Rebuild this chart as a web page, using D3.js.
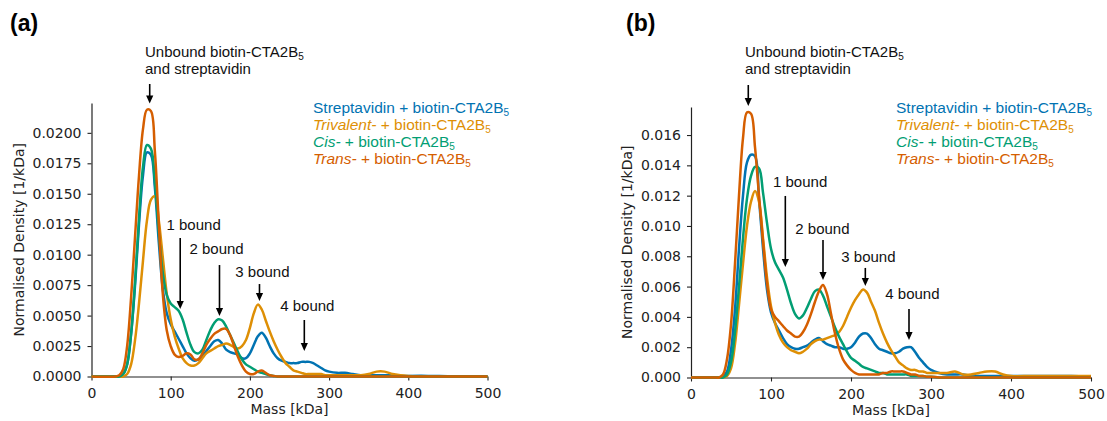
<!DOCTYPE html>
<html>
<head>
<meta charset="utf-8">
<script src="https://cdn.jsdelivr.net/npm/d3@7"></script>
<style>
  html, body { margin: 0; padding: 0; background: #fff; }
  svg { display: block; }
  text { white-space: pre; }
  .tick text { font-family: 'DejaVu Sans', sans-serif; font-size: 14px; fill: #222; }
</style>
</head>
<body>
<svg id="chart" width="1107" height="421"></svg>
<script>
// ── Data ───────────────────────────────────────────────────────────────────────
// Mass grid [kDa] shared by every curve
var MASS = [0, 30, 35,
  40, 45, 50, 55, 60, 65,
  70, 75, 80, 85, 90, 95,
  100, 105, 110, 115, 120, 125,
  130, 135, 140, 145, 150, 155,
  160, 165, 170, 175, 180, 185,
  190, 195, 200, 205, 210, 215,
  220, 225, 230, 235, 240, 245,
  250, 255, 260, 265, 270, 275,
  280, 285, 290, 295, 300,
  310, 320, 330, 340, 350, 360, 370, 380, 390, 400,
  425, 450, 475, 500];

// Normalised density [1/kDa], panel (a)
var STREP_A = [0, 0, 0,
  0.0002, 0.0010, 0.0035, 0.0075, 0.0125, 0.0165,
  0.0184, 0.0182, 0.0155, 0.0110, 0.0072, 0.0052,
  0.0043, 0.0037, 0.0031, 0.0025, 0.0019, 0.0015,
  0.0013, 0.0014, 0.0017, 0.0021, 0.0025, 0.0029,
  0.0030, 0.0027, 0.0022, 0.0020, 0.0019, 0.0018,
  0.0015, 0.0015, 0.0019, 0.0026, 0.0033, 0.0036,
  0.0032, 0.0025, 0.0019, 0.0015, 0.0013, 0.0012,
  0.0011, 0.0011, 0.0011, 0.0012, 0.0012, 0.0012,
  0.0011, 0.0009, 0.0007, 0.0005, 0.0004,
  0.0003, 0.0003, 0.0002, 0.0001, 0.0001, 0.0001, 0.0001, 0.0001, 0.00005, 0.00005,
  0.00005, 0.00003, 0.00002, 0.00002];

var TRI_A = [0, 0, 0,
  0, 0.0002, 0.0010, 0.0030, 0.0060, 0.0095,
  0.0128, 0.0145, 0.0148, 0.0128, 0.0098, 0.0068,
  0.0047, 0.0033, 0.0023, 0.0015, 0.0011, 0.0009,
  0.0009, 0.0011, 0.0015, 0.0019, 0.0021, 0.0023,
  0.0025, 0.0026, 0.0027, 0.0026, 0.0024, 0.0023,
  0.0025, 0.0030, 0.0040, 0.0052, 0.0059, 0.0055,
  0.0046, 0.0037, 0.0029, 0.0022, 0.0016, 0.0011,
  0.0008, 0.0005, 0.0004, 0.0003, 0.0002, 0.0002,
  0.0002, 0.0002, 0.0002, 0.0001, 0.0001,
  0.0001, 0.0001, 0.0001, 0.0001, 0.0002, 0.0004, 0.0004, 0.0002, 0.0001, 0.00005,
  0, 0, 0, 0];

var CIS_A = [0, 0, 0,
  0.0002, 0.0010, 0.0035, 0.0078, 0.0130, 0.0172,
  0.0190, 0.0187, 0.0160, 0.0118, 0.0085, 0.0067,
  0.0060, 0.0057, 0.0054, 0.0047, 0.0036, 0.0026,
  0.0020, 0.0019, 0.0022, 0.0030, 0.0038, 0.0044,
  0.0047, 0.0046, 0.0041, 0.0034, 0.0027, 0.0020,
  0.0014, 0.0010, 0.0008, 0.0006, 0.0004, 0.0003,
  0.0002, 0.0001, 0.00005, 0, 0, 0,
  0, 0, 0, 0, 0, 0,
  0, 0, 0, 0, 0,
  0, 0, 0, 0, 0, 0, 0, 0, 0, 0,
  0, 0, 0, 0];

var TRANS_A = [0, 0, 0.0001,
  0.0006, 0.0025, 0.0065, 0.0115, 0.0165, 0.0203,
  0.0219, 0.0218, 0.0185, 0.0125, 0.0068, 0.0038,
  0.0025, 0.0018, 0.0016, 0.0017, 0.0019, 0.0018,
  0.0014, 0.0014, 0.0019, 0.0026, 0.0031, 0.0035,
  0.0037, 0.0039, 0.0039, 0.0034, 0.0025, 0.0016,
  0.0009, 0.0004, 0.0002, 0.0002, 0.0004, 0.0005,
  0.0003, 0.0001, 0.00005, 0, 0, 0,
  0, 0, 0, 0, 0, 0,
  0, 0, 0, 0, 0,
  0, 0, 0, 0, 0, 0, 0, 0, 0, 0,
  0, 0, 0, 0];

// Normalised density [1/kDa], panel (b)
var STREP_B = [0, 0, 0,
  0.0001, 0.0004, 0.0018, 0.0045, 0.0085, 0.0120,
  0.0142, 0.0147, 0.0146, 0.0118, 0.0085, 0.0058,
  0.0043, 0.0036, 0.0031, 0.0026, 0.0022, 0.0020,
  0.0019, 0.0019, 0.0020, 0.0021, 0.0023, 0.0025,
  0.0026, 0.0024, 0.0022, 0.0021, 0.0020, 0.0020,
  0.0019, 0.0019, 0.0020, 0.0023, 0.0027, 0.0029,
  0.0029, 0.0026, 0.0022, 0.0019, 0.0018, 0.0017,
  0.0016, 0.0016, 0.0017, 0.0019, 0.0020, 0.0020,
  0.0017, 0.0013, 0.0010, 0.0007, 0.0005,
  0.0003, 0.0002, 0.0002, 0.0002, 0.0001, 0.0001, 0.0001, 0.0001, 0.0001, 0.0001,
  0.0001, 0.0001, 0.0001, 0.00005];

var TRI_B = [0, 0, 0,
  0, 0.0001, 0.0006, 0.0022, 0.0048, 0.0075,
  0.0100, 0.0116, 0.0123, 0.0116, 0.0092, 0.0066,
  0.0047, 0.0036, 0.0028, 0.0023, 0.0020, 0.0018,
  0.0017, 0.0016, 0.0017, 0.0019, 0.0022, 0.0024,
  0.0025, 0.0025, 0.0026, 0.0027, 0.0028, 0.0030,
  0.0034, 0.0040, 0.0046, 0.0051, 0.0055, 0.0058,
  0.0056, 0.0050, 0.0044, 0.0036, 0.0029, 0.0023,
  0.0018, 0.0014, 0.0010, 0.0008, 0.0006, 0.0005,
  0.0005, 0.0004, 0.0004, 0.0003, 0.0003,
  0.0003, 0.0003, 0.0004, 0.0002, 0.0002, 0.0003, 0.0004, 0.0004, 0.0002, 0.0001,
  0.0001, 0.0001, 0.0001, 0.0001];

var CIS_B = [0, 0, 0,
  0, 0.0002, 0.0010, 0.0030, 0.0060, 0.0092,
  0.0118, 0.0133, 0.0139, 0.0138, 0.0122, 0.0102,
  0.0085, 0.0076, 0.0071, 0.0066, 0.0058, 0.0049,
  0.0042, 0.0039, 0.0041, 0.0046, 0.0052, 0.0057,
  0.0058, 0.0054, 0.0047, 0.0040, 0.0033, 0.0027,
  0.0022, 0.0017, 0.0013, 0.0011, 0.0009, 0.0007,
  0.0006, 0.0005, 0.0004, 0.0003, 0.0003, 0.0002,
  0.0002, 0.0002, 0.0002, 0.0002, 0.0002, 0.0001,
  0.0001, 0.0001, 0.0001, 0.00005, 0.00005,
  0, 0, 0, 0, 0, 0, 0, 0, 0, 0,
  0, 0, 0, 0];

var TRANS_B = [0, 0, 0,
  0.0002, 0.0012, 0.0035, 0.0075, 0.0120, 0.0158,
  0.0175, 0.0174, 0.0152, 0.0120, 0.0090, 0.0062,
  0.0045, 0.0040, 0.0037, 0.0034, 0.0031, 0.0029,
  0.0027, 0.0027, 0.0030, 0.0035, 0.0042, 0.0050,
  0.0057, 0.0061, 0.0055, 0.0042, 0.0029, 0.0019,
  0.0012, 0.0008, 0.0005, 0.0003, 0.0002, 0.0002,
  0.0002, 0.0002, 0.0002, 0.0002, 0.0003, 0.0003,
  0.0004, 0.0004, 0.0004, 0.0004, 0.0003, 0.0002,
  0.0002, 0.0001, 0.0001, 0.00005, 0.00005,
  0, 0, 0, 0, 0, 0, 0, 0, 0, 0,
  0, 0, 0, 0];

// Legend / series order (also the drawing order)
var LEGEND_ITALIC = ['', 'Trivalent-', 'Cis-', 'Trans-'];
var LEGEND_PLAIN  = ['Streptavidin + biotin-CTA2B', ' + biotin-CTA2B', ' + biotin-CTA2B', ' + biotin-CTA2B'];
var COLORS = ['#0173b2', '#de8f05', '#029e73', '#d55e00'];

var X_TICKS   = [0, 100, 200, 300, 400, 500];
var Y_TICKS_A = [0, 0.0025, 0.005, 0.0075, 0.01, 0.0125, 0.015, 0.0175, 0.02];
var Y_TICKS_B = [0, 0.002, 0.004, 0.006, 0.008, 0.01, 0.012, 0.014, 0.016];

// Annotations in data units: text anchor (mass, density), arrow mass, arrow from / to density
var BOUND_LABELS = ['1 bound', '2 bound', '3 bound', '4 bound'];
var BOUND_A = [
  [94.7, 0.01199, 112.0, 0.01137, 0.00554],
  [123.7, 0.01006, 161.6, 0.00915, 0.00497],
  [181.6, 0.00813, 212.1, 0.00759, 0.00620],
  [238.3, 0.00534, 268.7, 0.00464, 0.00209]
];
var BOUND_B = [
  [102.5, 0.01254, 117.9, 0.01198, 0.00729],
  [130.4, 0.00944, 165.0, 0.00908, 0.00644],
  [187.9, 0.00762, 217.9, 0.00723, 0.00604],
  [242.9, 0.00515, 272.5, 0.00452, 0.00248]
];
// Unbound: text mass, line-1 density, line-2 density, arrow mass, from, to
var UNBOUND_A = [67.6, 0.02623, 0.02483, 73.5, 0.02401, 0.02241];
var UNBOUND_B = [67.5, 0.02115, 0.02003, 71.6, 0.01930, 0.01792];

// ── Layout ─────────────────────────────────────────────────────────────────────
var PANELS = [
  { tag: '(a)', tagX: 10, x0: 91.5, x1: 487.5, y0: 376.5, y1: 103, yMax: 0.02245,
    yTicks: Y_TICKS_A, yFmt: '.4f', series: [STREP_A, TRI_A, CIS_A, TRANS_A],
    bound: BOUND_A, unbound: UNBOUND_A, legendX: 313, yLabelX: 23.5 },
  { tag: '(b)', tagX: 626, x0: 691, x1: 1091, y0: 377.5, y1: 107, yMax: 0.01785,
    yTicks: Y_TICKS_B, yFmt: '.3f', series: [STREP_B, TRI_B, CIS_B, TRANS_B],
    bound: BOUND_B, unbound: UNBOUND_B, legendX: 896, yLabelX: 632 }
];

var ANNOT_FONT = "'Liberation Sans', Arial, sans-serif";
var AXIS_FONT  = "'DejaVu Sans', sans-serif";
var INK = '#222';

var svg = d3.select('#chart');
svg.append('rect').attr('width', 1107).attr('height', 421).attr('fill', '#fff');

PANELS.forEach(drawPanel);

function drawPanel(p) {
  var x = d3.scaleLinear().domain([0, 500]).range([p.x0, p.x1]);
  var y = d3.scaleLinear().domain([0, p.yMax]).range([p.y0, p.y1]);
  var g = svg.append('g');

  // Panel tag
  g.append('text')
    .attr('x', p.tagX).attr('y', 31)
    .attr('font-family', ANNOT_FONT).attr('font-weight', 'bold')
    .attr('font-size', 23).attr('fill', '#000')
    .text(p.tag);

  // Axes (left + bottom spines only)
  var xAxis = g.append('g')
    .attr('transform', 'translate(0,' + p.y0 + ')')
    .call(d3.axisBottom(x).tickValues(X_TICKS).tickFormat(d3.format('d'))
      .tickSizeInner(4).tickSizeOuter(0).tickPadding(7.5));
  var yAxis = g.append('g')
    .attr('transform', 'translate(' + p.x0 + ',0)')
    .call(d3.axisLeft(y).tickValues(p.yTicks).tickFormat(d3.format(p.yFmt))
      .tickSizeInner(4).tickSizeOuter(0).tickPadding(6));
  [xAxis, yAxis].forEach(function(a) {
    a.select('.domain').attr('stroke', INK).attr('stroke-width', 1.2);
    a.selectAll('.tick line').attr('stroke', INK).attr('stroke-width', 1.1);
  });

  // Axis labels
  g.append('text')
    .attr('x', (p.x0 + p.x1) / 2).attr('y', p.y0 + 37.5)
    .attr('text-anchor', 'middle')
    .attr('font-family', AXIS_FONT).attr('font-size', 14).attr('fill', INK)
    .text('Mass [kDa]');
  g.append('text')
    .attr('transform', 'translate(' + p.yLabelX + ',' + ((p.y0 + p.y1) / 2) + ') rotate(-90)')
    .attr('text-anchor', 'middle')
    .attr('font-family', AXIS_FONT).attr('font-size', 14).attr('fill', INK)
    .text('Normalised Density [1/kDa]');

  // Curves
  var line = d3.line()
    .x(function(d, i) { return x(MASS[i]); })
    .y(function(d) { return y(d); })
    .curve(d3.curveCatmullRom.alpha(0.5));

  g.selectAll('path.curve')
    .data(p.series)
    .enter()
    .append('path')
    .attr('class', 'curve')
    .attr('d', line)
    .attr('fill', 'none')
    .attr('stroke', function(d, i) { return COLORS[i]; })
    .attr('stroke-width', 2.5)
    .attr('stroke-linejoin', 'round');

  // Unbound annotation (two lines, subscript 5)
  var u = p.unbound;
  var t1 = g.append('text')
    .attr('x', x(u[0])).attr('y', y(u[1]))
    .attr('font-family', ANNOT_FONT).attr('font-size', 15).attr('fill', '#111');
  t1.append('tspan').text('Unbound biotin-CTA2B');
  t1.append('tspan').attr('dy', 3.5).attr('font-size', 10).text('5');
  g.append('text')
    .attr('x', x(u[0])).attr('y', y(u[2]))
    .attr('font-family', ANNOT_FONT).attr('font-size', 15).attr('fill', '#111')
    .text('and streptavidin');
  _arrow(g, x(u[3]), y(u[4]), y(u[5]));

  // n-bound annotations
  p.bound.forEach(function(b, i) {
    g.append('text')
      .attr('x', x(b[0])).attr('y', y(b[1]))
      .attr('font-family', ANNOT_FONT).attr('font-size', 15).attr('fill', '#111')
      .text(BOUND_LABELS[i]);
    _arrow(g, x(b[2]), y(b[3]), y(b[4]));
  });

  // Legend (coloured text, no handles)
  LEGEND_PLAIN.forEach(function(plain, i) {
    var t = g.append('text')
      .attr('x', p.legendX).attr('y', 113 + i * 17)
      .attr('font-family', ANNOT_FONT).attr('font-size', 15.5)
      .attr('fill', COLORS[i]);
    if (LEGEND_ITALIC[i]) t.append('tspan').attr('font-style', 'italic').text(LEGEND_ITALIC[i]);
    t.append('tspan').text(plain);
    t.append('tspan').attr('dy', 3).attr('font-size', 10).text('5');
  });
}

// ── Helpers ────────────────────────────────────────────────────────────────────
function _arrow(g, ax, yFrom, yTo) {
  var head = 8, half = 3.6;
  g.append('line')
    .attr('x1', ax).attr('x2', ax)
    .attr('y1', yFrom).attr('y2', yTo - head + 1)
    .attr('stroke', '#000').attr('stroke-width', 1.6);
  g.append('path')
    .attr('d', 'M' + (ax - half) + ',' + (yTo - head) + 'L' + (ax + half) + ',' + (yTo - head) + 'L' + ax + ',' + yTo + 'Z')
    .attr('fill', '#000');
}
</script>
</body>
</html>
